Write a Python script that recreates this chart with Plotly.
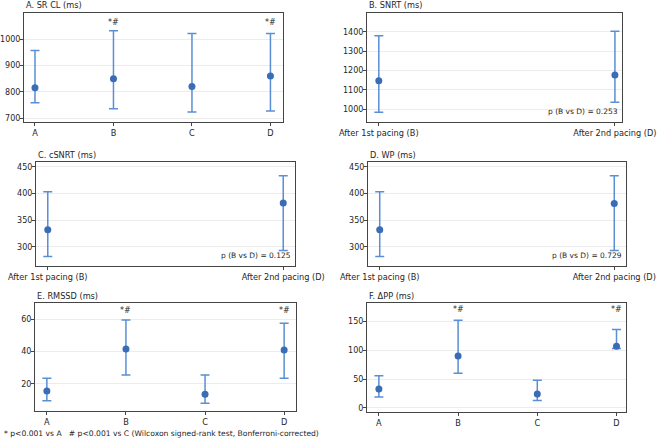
import plotly.graph_objects as go

W, H = 658, 448

# ---- data ----
cats4 = ["A", "B", "C", "D"]
cats2 = ["After 1st pacing (B)", "After 2nd pacing (D)"]

srcl_med = [815, 850, 820, 860]
srcl_lo = [758, 735, 723, 727]
srcl_hi = [957, 1032, 1022, 1022]

snrt_med = [1147, 1177]
snrt_lo = [983, 1035]
snrt_hi = [1380, 1403]

csnrt_med = [332, 382]
csnrt_lo = [282, 293]
csnrt_hi = [403, 433]

wp_med = [332, 381]
wp_lo = [282, 293]
wp_hi = [403, 433]

rmssd_med = [15.5, 41.5, 13.5, 41]
rmssd_lo = [9.5, 25.5, 8, 23.5]
rmssd_hi = [23.5, 59.5, 25.5, 57.5]

dpp_med = [33, 90, 24, 107]
dpp_lo = [19, 60, 13, 103]
dpp_hi = [56, 152, 48, 136]

sig_marks = ["", "*#", "", "*#"]
p_texts = ["p (B vs D) = 0.253", "p (B vs D) = 0.125", "p (B vs D) = 0.729"]

titles = ["A. SR CL (ms)", "B. SNRT (ms)", "C. cSNRT (ms)", "D. WP (ms)",
          "E. RMSSD (ms)", "F. ΔPP (ms)"]
footnote = "* p<0.001 vs A   # p<0.001 vs C (Wilcoxon signed-rank test, Bonferroni-corrected)"

# ---- layout (pixel boxes) ----
boxes = [(24, 283, 13, 122), (367, 622, 13, 122),
         (36, 295, 162, 266), (368, 626, 162, 266),
         (35, 296, 303, 411), (367, 626, 303, 412)]
yranges = [[685, 1100], [933, 1498], [264, 459], [264, 459], [3.2, 70], [-7, 182]]
ytick_vals = [[700, 800, 900, 1000], [1000, 1100, 1200, 1300, 1400],
              [300, 350, 400, 450], [300, 350, 400, 450], [20, 40, 60], [0, 50, 100, 150]]
xranges = [[-0.14, 3.16], [-0.05, 1.03], [-0.05, 1.05], [-0.05, 1.05],
           [-0.15, 3.15], [-0.15, 3.12]]

panels = [
    (cats4, srcl_med, srcl_lo, srcl_hi),
    (cats2, snrt_med, snrt_lo, snrt_hi),
    (cats2, csnrt_med, csnrt_lo, csnrt_hi),
    (cats2, wp_med, wp_lo, wp_hi),
    (cats4, rmssd_med, rmssd_lo, rmssd_hi),
    (cats4, dpp_med, dpp_lo, dpp_hi),
]
sig_y = [1065, None, None, None, 65.6, 170]

MARK = "#3a6db5"
ERR = "#5a8fd4"
FONT = "DejaVu Sans"
TXT = "#262626"

fig = go.Figure()
annotations = []
layout = {}

for i, (cats, med, lo, hi) in enumerate(panels):
    n = i + 1
    xa = "xaxis" if n == 1 else f"xaxis{n}"
    ya = "yaxis" if n == 1 else f"yaxis{n}"
    xr = "x" if n == 1 else f"x{n}"
    yr = "y" if n == 1 else f"y{n}"
    x0, x1, y0, y1 = boxes[i]
    xs = list(range(len(cats)))
    fig.add_trace(go.Scatter(
        x=xs, y=med, mode="markers", xaxis=xr, yaxis=yr,
        marker=dict(color=MARK, size=7),
        error_y=dict(type="data", symmetric=False,
                     array=[h - m for h, m in zip(hi, med)],
                     arrayminus=[m - l for m, l in zip(med, lo)],
                     color=ERR, thickness=1.5, width=4.5),
        showlegend=False, hoverinfo="skip"))
    layout[xa] = dict(domain=[x0 / W, x1 / W], anchor=yr, range=xranges[i],
                      tickvals=xs, ticktext=cats, showgrid=False, zeroline=False,
                      automargin=False, ticklabeloverflow="allow",
                      showline=True, mirror=True, linecolor="#444", linewidth=1,
                      ticks="outside", ticklen=3, tickcolor="#444",
                      tickfont=dict(family=FONT, size=8.2, color=TXT))
    layout[ya] = dict(domain=[1 - y1 / H, 1 - y0 / H], anchor=xr, range=yranges[i],
                      tickvals=ytick_vals[i], showgrid=True, gridcolor="#ececec",
                      gridwidth=1, zeroline=False, automargin=False,
                      ticklabeloverflow="allow", ticklabelstandoff=-2,
                      showline=True, mirror=True, linecolor="#444", linewidth=1,
                      ticks="outside", ticklen=3, tickcolor="#444",
                      tickfont=dict(family=FONT, size=8, color=TXT))
    annotations.append(dict(text=titles[i], xref="paper", yref="paper",
                            x=x0 / W, y=1 - (y0 - 7.5) / H, xanchor="left", yanchor="middle",
                            showarrow=False, font=dict(family=FONT, size=8.2, color=TXT)))
    if len(cats) == 4:
        for j, s in enumerate(sig_marks):
            if s:
                annotations.append(dict(text=s, xref=xr, yref=yr, x=xs[j], y=sig_y[i],
                                        showarrow=False, xanchor="center", yanchor="middle",
                                        font=dict(family=FONT, size=8, color=TXT)))
    else:
        annotations.append(dict(text=p_texts[i - 1], xref="paper", yref="paper",
                                x=(x1 - 2) / W, y=1 - (y1 - 4) / H,
                                xanchor="right", yanchor="bottom", showarrow=False,
                                font=dict(family=FONT, size=7.5, color=TXT)))

annotations.append(dict(text=footnote, xref="paper", yref="paper", x=2 / W, y=1 - 433 / H,
                        xanchor="left", yanchor="middle", showarrow=False,
                        font=dict(family=FONT, size=7.6, color=TXT)))

fig.update_layout(width=W, height=H, margin=dict(l=0, r=0, t=0, b=0),
                  template="none",
                  plot_bgcolor="white", paper_bgcolor="white",
                  annotations=annotations, **layout)

fig.write_html("out.html")
